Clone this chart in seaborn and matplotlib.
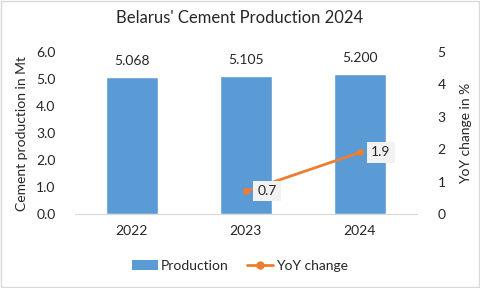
import matplotlib
matplotlib.use("Agg")
import matplotlib.pyplot as plt
import seaborn as sns
import numpy as np
import pandas as pd
from matplotlib.patches import Patch
from matplotlib.lines import Line2D

years = ["2022", "2023", "2024"]
production = [5.068, 5.105, 5.200]
yoy_years = ["2023", "2024"]
yoy_change = [0.7, 1.9]
left_ticks = [0, 1, 2, 3, 4, 5, 6]
right_ticks = [0, 1, 2, 3, 4, 5]

sns.set_style("white")
plt.rcParams["font.family"] = ["Lato", "DejaVu Sans"]

BLUE = "#5B9BD5"
ORANGE = "#ED7D31"
TXT = "#262626"

fig = plt.figure(figsize=(4.8, 2.88), dpi=100)
fig.patch.set_facecolor("white")
ax = fig.add_axes([0.156, 0.257, 0.7125, 0.562])

df = pd.DataFrame({"year": years, "prod": production})
sns.barplot(data=df, x="year", y="prod", color=BLUE, saturation=1, width=0.456, ax=ax)
ax.set_ylim(0, 6)
ax.set_yticks(left_ticks)
ax.set_yticklabels([f"{v:.1f}" for v in left_ticks])
ax.set_xlabel("")
ax.set_ylabel("Cement production in Mt", fontsize=10, color=TXT, labelpad=6)
for p, v in zip(ax.patches, production):
    ax.text(p.get_x() + p.get_width() / 2, v + 0.37, f"{v:.3f}", ha="center", va="bottom",
            fontsize=10, color=TXT)

ax2 = ax.twinx()
xpos = [years.index(y) for y in yoy_years]
sns.lineplot(x=xpos, y=yoy_change, color=ORANGE, linewidth=2, marker="o", markersize=5,
             markeredgewidth=0, ax=ax2)
ax2.set_ylim(0, 5)
ax2.set_yticks(right_ticks)
ax2.set_ylabel("YoY change in %", fontsize=10, color=TXT, labelpad=10)
for xp, v in zip(xpos, yoy_change):
    ax2.text(xp + 0.1, v, f"{v:.1f}", ha="left", va="center", fontsize=10, color=TXT,
             bbox=dict(boxstyle="square,pad=0.3", fc="#F2F2F2", ec="none"))

for a in (ax, ax2):
    for s in ["top", "left", "right"]:
        a.spines[s].set_visible(False)
    a.tick_params(axis="both", length=0, labelsize=10, colors=TXT, pad=8)
ax.tick_params(axis="y", pad=14)
ax2.tick_params(axis="y", pad=15)
ax2.spines["bottom"].set_visible(False)
ax.spines["bottom"].set_color("#D9D9D9")
ax.set_xlim(-0.5, 2.5)

fig.suptitle("Belarus' Cement Production 2024", x=0.5, y=0.965, fontsize=12, color=TXT)

handles = [Patch(facecolor=BLUE, edgecolor="none"),
           Line2D([0], [0], color=ORANGE, lw=2, marker="o", markersize=5)]
fig.legend(handles, ["Production", "YoY change"], loc="center", bbox_to_anchor=(0.5, 0.077),
           ncol=2, frameon=False, fontsize=10, handlelength=1.9, handletextpad=0.2,
           columnspacing=1.3, labelcolor=TXT)

border = plt.Rectangle((0.002, 0.003), 0.996, 0.994, transform=fig.transFigure, fill=False,
                       ec="#D9D9D9", lw=1)
fig.add_artist(border)

fig.savefig("out.png", dpi=100)
